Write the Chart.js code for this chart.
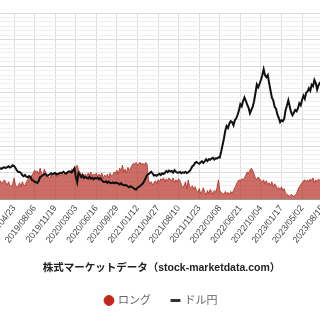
<!DOCTYPE html>
<html>
<head>
<meta charset="utf-8">
<script src="https://cdn.jsdelivr.net/npm/chart.js@4.4.1/dist/chart.umd.min.js"></script>
<style>
  html, body { margin: 0; padding: 0; background: #fff; overflow: hidden; }
  #wrap { position: absolute; left: -1px; top: 0; width: 325px; height: 320px; }
</style>
</head>
<body>
<div id="wrap"><canvas id="myChart"></canvas></div>
<script>
// weekly data (Tuesdays), first week 2019/02/05
const startDate = '2019/02/05';

const tickLabels = [
  '2019/04/23', '2019/08/06', '2019/11/19', '2020/03/03', '2020/06/16',
  '2020/09/29', '2021/01/12', '2021/04/27', '2021/08/10', '2021/11/23',
  '2022/03/08', '2022/06/21', '2022/10/04', '2023/01/17', '2023/05/02',
  '2023/08/15'
];

// ロング (contracts)
const longData = [
  18600, 20800, 17500, 19700, 21900, 18600, 16400, 19700,
  15300, 14200, 17500, 24100, 16400, 13100, 15300, 18600,
  14200, 19700, 16400, 15300,
  19700, 21900, 25200, 23000, 27300,
  29500, 32800, 30600, 31700,
  28400, 35000, 29500, 27300, 33900, 30600, 26300,
  25200, 24100, 27300, 25200,
  26300, 28400, 25200, 27300, 29500, 26300, 28400, 27300, 29500, 28400,
  29500, 31700, 30600, 33900, 32800, 36100, 35000, 38300, 32800,
  30600, 27300, 29500, 26300, 28400, 25200, 29500, 27300, 30600, 26300, 28400, 27300, 29500, 25200, 28400,
  26300, 29500, 24100, 27300, 25200, 28400, 24100, 29500, 26300, 27300, 30600,
  29500, 32800, 28400, 35000, 31700, 38300, 30600, 33900, 29500, 36100, 32800, 35000,
  38300, 40500, 39400, 41600, 38300, 40500, 41600, 39400, 40500, 38300, 41600, 39400,
  21900, 17500, 19700, 16400, 18600, 20800, 17500, 21900, 19700, 23000,
  21900, 24100, 19700, 23000, 20800, 24100, 21900,
  20800, 24100, 18600, 21900, 19700, 23000, 20800,
  16400, 13100, 15300, 19700, 12000, 21900, 14200, 13100, 15300, 10900, 14200,
  9800, 7700, 12000, 6600, 8800, 13100, 7700, 5500, 9800, 6600, 10900, 8800, 5500, 9800, 7700,
  13100, 21900, 9800, 7700,
  6600, 5500, 8800, 6600, 7700, 5500, 8800, 6600, 9800, 13100,
  16400, 19700, 21900, 20800, 23000, 21900, 24100,
  27300, 30600, 29500, 32800, 35000, 32800, 28400,
  24100, 21900, 25200, 23000, 20800,
  19700, 21900, 17500, 20800, 16400, 18600, 15300, 19700, 14200, 17500,
  15300, 12000, 13100, 10900, 14200, 9800, 12000,
  6600, 5500, 4400, 3300, 5500, 4400, 3300, 4400, 6600,
  10900, 14200, 16400, 18600, 20800, 21900, 19700,
  21900, 19700, 23000, 20800, 24100, 18600, 21900, 19700, 23000, 20800, 21900, 19700, 20800
];

// ドル円
const usdJpy = [
  111.0, 111.4, 111.2, 111.6, 111.8, 111.5, 111.9, 112.2, 111.7, 112.0, 112.6,
  112.3, 111.5, 110.6, 109.9, 109.9, 109.5, 108.6, 108.2, 108.7, 108.0, 107.8, 108.3, 107.9, 106.7, 106.5,
  106.0, 105.8, 105.5, 106.4, 107.9, 108.2, 108.6, 109.0, 109.1, 108.4, 108.6, 109.0, 109.4, 108.9, 109.3,
  109.5, 108.9, 109.1, 109.4, 109.6, 109.5, 110.0, 109.5, 109.3, 109.8, 110.2, 110.0, 109.7, 110.5, 111.4,
  108.0, 105.8, 109.5, 108.7, 107.8, 108.5, 107.5, 107.9, 107.6, 107.3, 108.0, 107.2, 107.6, 107.0, 107.5,
  107.3, 107.6, 107.0, 107.5, 106.6, 106.0, 105.9, 106.2, 105.6, 106.1, 105.6, 105.4, 105.7, 105.4, 105.7,
  105.5, 105.3, 104.9, 105.4, 104.8, 104.6, 104.7, 104.5, 104.1, 103.8, 104.2, 103.9, 103.5, 103.1, 102.9,
  103.6, 104.0, 104.3, 104.9, 105.4, 106.4, 107.5, 108.7, 109.0, 109.5, 110.0, 109.3, 108.5, 108.7, 108.4,
  108.9, 109.2, 108.7, 109.4, 109.1, 109.6, 110.3, 109.8, 110.5, 110.1, 110.3, 109.7, 110.6, 110.0, 109.6,
  109.7, 109.9, 109.4, 109.8, 109.6, 110.0, 109.5, 109.8, 110.3, 111.1, 112.2, 112.6, 113.6, 113.9, 113.5,
  113.2, 113.7, 114.2, 113.5, 114.1, 115.0, 114.3, 115.0, 114.8, 115.3, 115.6, 114.9, 115.4, 115.3, 115.8,
  115.7, 118.0, 120.6, 123.2, 126.4, 128.3, 127.5, 129.3, 130.2, 129.8, 128.6, 130.6, 131.4, 132.8, 134.6,
  137.0, 136.2, 138.3, 139.7, 138.4, 136.8, 135.6, 133.4, 134.7, 135.9, 138.2, 141.4, 144.9, 143.8, 145.2,
  146.7, 148.6, 151.0, 148.6, 147.8, 148.7, 145.5, 142.5, 139.6, 138.6, 136.0, 135.2, 132.9, 131.6, 129.8,
  130.6, 130.2, 131.2, 134.7, 136.5, 138.6, 136.1, 133.8, 132.6, 133.6, 134.7, 134.2, 135.3, 137.4, 136.6,
  138.7, 140.4, 139.2, 141.6, 142.1, 143.4, 142.4, 144.8, 144.2, 146.7, 145.5, 142.9, 144.6, 145.6, 146.2,
  145.9, 146.7
];

// build the weekly date categories
const labels = [];
let d = new Date(startDate.replace(/\//g, '-') + 'T00:00:00Z');
for (let k = 0; k < usdJpy.length; k++) {
  const y = d.getUTCFullYear();
  const m = String(d.getUTCMonth() + 1).padStart(2, '0');
  const dd = String(d.getUTCDate()).padStart(2, '0');
  labels.push(y + '/' + m + '/' + dd);
  d = new Date(d.getTime() + 7 * 86400000);
}

Chart.defaults.font.family = "'Liberation Sans', 'Noto Sans CJK JP', sans-serif";

const data = {
  labels: labels,
  datasets: [{
    label: 'ロング',
    data: longData,
    yAxisID: 'y',
    fill: 'origin',
    backgroundColor: 'rgba(180, 40, 30, 0.68)',
    borderColor: 'rgba(170, 40, 30, 0.75)',
    borderWidth: 1,
    pointRadius: 0,
    pointStyle: 'circle',
    pointBackgroundColor: '#c0281c',
    pointBorderColor: '#c0281c',
    order: 2
  }, {
    label: 'ドル円',
    data: usdJpy,
    yAxisID: 'y1',
    fill: false,
    borderColor: '#111',
    borderWidth: 2,
    pointRadius: 0,
    pointStyle: 'line',
    pointBorderColor: '#333',
    pointBorderWidth: 3,
    order: 1
  }]
};

const config = {
  type: 'line',
  data: data,
  options: {
    responsive: true,
    maintainAspectRatio: false,
    animation: false,
    layout: { padding: { top: 13, left: 0, right: 0, bottom: 4 } },
    scales: {
      x: {
        // let the first and last labels run off the edges, like the cropped original
        afterFit: (scale) => { scale.paddingLeft = 0; scale.paddingRight = 0; },
        grid: { color: '#dddddd', drawTicks: false },
        border: { color: '#999' },
        ticks: {
          autoSkip: false,
          minRotation: 52,
          maxRotation: 52,
          padding: 4,
          color: '#444',
          font: { size: 9 },
          callback: function (value) {
            const l = this.getLabelForValue(value);
            return tickLabels.includes(l) ? l : null;
          }
        },
        title: {
          display: true,
          text: '株式マーケットデータ（stock-marketdata.com）',
          color: '#222',
          font: { size: 10.5, weight: 'bold' },
          padding: { top: 12, bottom: 0 }
        }
      },
      y: {
        position: 'left',
        min: 0,
        max: 210000,
        border: { display: false },
        grid: {
          drawTicks: false,
          color: (ctx) => ctx.tick && ctx.tick.value % 30000 === 0 ? '#dcdcdc' : '#f0f0f0'
        },
        ticks: { display: false, stepSize: 5000, maxTicksLimit: 100 }
      },
      y1: {
        display: false,
        position: 'right',
        min: 99,
        max: 173.5,
        grid: { display: false }
      }
    },
    plugins: {
      tooltip: { enabled: false },
      legend: {
        position: 'bottom',
        labels: {
          usePointStyle: true,
          boxWidth: 7,
          boxHeight: 7,
          padding: 21,
          color: '#666',
          font: { size: 11 },
          sort: (a, b) => a.datasetIndex - b.datasetIndex
        }
      }
    }
  }
};

const myChart = new Chart(
  document.getElementById('myChart'),
  config
);
</script>
</body>
</html>
